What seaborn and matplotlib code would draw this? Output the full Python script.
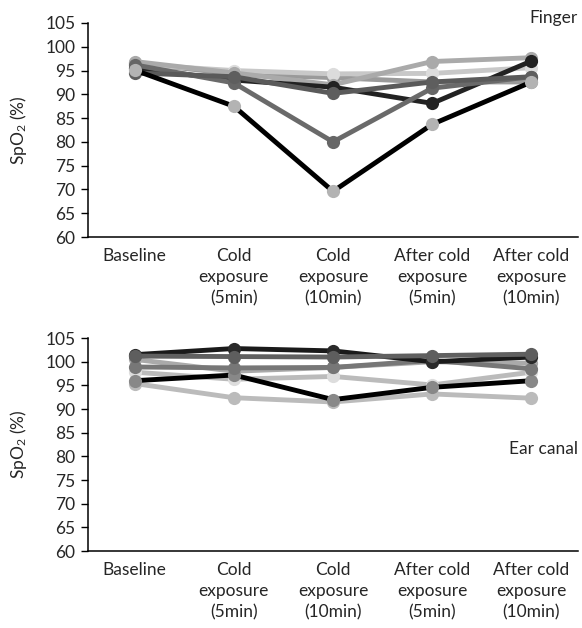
import numpy as np
import pandas as pd
import matplotlib
matplotlib.use("Agg")
import matplotlib.pyplot as plt
import seaborn as sns

sns.set_theme(style="white")
plt.rcParams['font.family'] = ['Lato', 'DejaVu Sans']
plt.rcParams['mathtext.fontset'] = 'custom'
plt.rcParams['mathtext.rm'] = 'Lato'
plt.rcParams['mathtext.it'] = 'Lato:italic'

categories = ["Baseline", "Cold\nexposure\n(5min)", "Cold\nexposure\n(10min)",
              "After cold\nexposure\n(5min)", "After cold\nexposure\n(10min)"]
yticks = [60, 65, 70, 75, 80, 85, 90, 95, 100, 105]

# Finger
finger_s1 = [95.1, 87.5, 69.6, 83.7, 92.6]
finger_s2 = [95.5, 93.0, 91.5, 88.1, 97.0]
finger_s3 = [96.2, 92.4, 80.0, 91.3, 93.7]
finger_s4 = [96.9, 94.5, 92.0, 96.9, 97.7]
finger_s5 = [96.3, 95.0, 94.3, 94.4, 95.6]
finger_s6 = [94.5, 93.7, 90.2, 92.6, 93.7]
finger_s7 = [96.6, 94.3, 93.5, 92.6, 92.6]

# Ear canal
ear_s1 = [101.5, 102.8, 102.3, 100.0, 101.0]
ear_s2 = [101.2, 101.1, 101.0, 101.3, 101.6]
ear_s3 = [98.9, 98.7, 98.8, 100.3, 98.5]
ear_s4 = [100.5, 98.0, 98.8, 100.0, 99.7]
ear_s5 = [97.8, 96.3, 96.9, 95.1, 97.8]
ear_s6 = [96.0, 97.2, 92.0, 94.6, 96.0]
ear_s7 = [95.4, 92.4, 91.5, 93.2, 92.3]

# (line color, marker color)
finger_styles = [("#9a9a9a", "#9a9a9a"), ("#c8c8c8", "#dcdcdc"), ("#aaaaaa", "#aaaaaa"),
                 ("#222222", "#222222"), ("#6a6a6a", "#666666"), ("#5a5a5a", "#5e5e5e"),
                 ("#000000", "#b3b3b3")]
finger_series = [finger_s7, finger_s5, finger_s4, finger_s2, finger_s3, finger_s6, finger_s1]

ear_styles = [("#bbbbbb", "#bbbbbb"), ("#bbbbbb", "#dddddd"), ("#aaaaaa", "#aaaaaa"),
              ("#000000", "#888888"), ("#777777", "#777777"), ("#1a1a1a", "#2a2a2a"),
              ("#606060", "#5e5e5e")]
ear_series = [ear_s7, ear_s5, ear_s4, ear_s6, ear_s3, ear_s1, ear_s2]

fig = plt.figure(figsize=(5.82, 6.28), dpi=100)
ax1 = fig.add_axes([0.1512, 0.6226, 0.842, 0.3408])
ax2 = fig.add_axes([0.1512, 0.1226, 0.842, 0.339])

xpos = np.arange(len(categories))

def draw(ax, series, styles):
    for vals, (lc, mc) in zip(series, styles):
        df = pd.DataFrame({"x": xpos, "y": vals})
        sns.lineplot(data=df, x="x", y="y", ax=ax, color=lc, linewidth=3.5,
                     marker="o", markersize=9.5, markerfacecolor=mc,
                     markeredgecolor=mc, markeredgewidth=0)
    ax.set_xlim(-0.47, 4.47)
    ax.set_ylim(60, 105)
    ax.set_yticks(yticks)
    ax.set_yticklabels([str(v) for v in yticks], fontsize=12.5)
    ax.set_xticks(xpos)
    ax.set_xticklabels(categories, fontsize=12.5, linespacing=1.4)
    ax.tick_params(axis='y', left=True, length=5, width=1, color='black', pad=4)
    ax.tick_params(axis='x', bottom=False, length=0, pad=8)
    for s in ['top', 'right']:
        ax.spines[s].set_visible(False)
    for s in ['left', 'bottom']:
        ax.spines[s].set_color('black')
        ax.spines[s].set_linewidth(1.1)
    ax.set_xlabel("")
    ax.set_ylabel(r"SpO$_2$ (%)", fontsize=12.5, labelpad=12)
    return ax

draw(ax1, finger_series, finger_styles)
ax1.text(1.0, 1.023, "Finger", transform=ax1.transAxes, ha="right", va="center", fontsize=12.5)
draw(ax2, ear_series, ear_styles)
ax2.text(1.0, 0.48, "Ear canal", transform=ax2.transAxes, ha="right", va="center", fontsize=12.5)

fig.savefig("out.png", dpi=100)
